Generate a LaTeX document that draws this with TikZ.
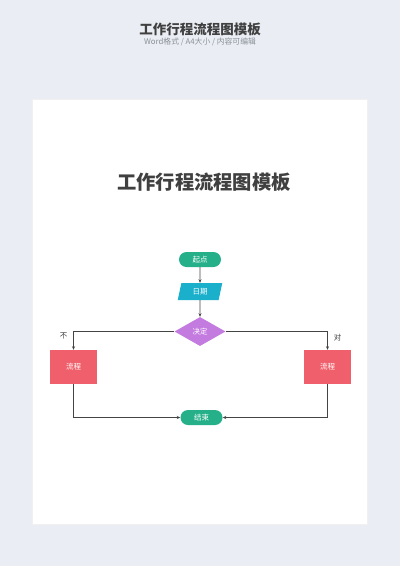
\documentclass[tikz,border=0pt]{standalone}
\usepackage{fontspec}
\setmainfont{Noto Sans CJK SC}
\usetikzlibrary{shapes.geometric,shapes.misc,arrows.meta}
\definecolor{bgc}{HTML}{EAEEF4}
\definecolor{teal1}{HTML}{26B08A}
\definecolor{cyan1}{HTML}{1AAFCB}
\definecolor{purp}{HTML}{C47BE0}
\definecolor{red1}{HTML}{F0606C}
\definecolor{ttl}{HTML}{404040}
\definecolor{sub}{HTML}{8A8F96}
\definecolor{lin}{HTML}{444444}
\tikzset{
  pill/.style={rounded rectangle,fill=teal1,text=white,minimum width=42pt,minimum height=15pt,inner sep=0pt,font=\fontsize{7.5}{8}\selectfont},
  para/.style={trapezium,trapezium left angle=78,trapezium right angle=102,fill=cyan1,text=white,minimum width=34pt,minimum height=17pt,inner sep=0pt,font=\fontsize{7.5}{8}\selectfont},
  dia/.style={diamond,aspect=1.9,fill=purp,text=white,minimum width=51pt,minimum height=29pt,inner sep=0pt,font=\fontsize{7.5}{8}\selectfont},
  proc/.style={rectangle,fill=red1,text=white,minimum width=47pt,minimum height=34pt,inner sep=0pt,font=\fontsize{7.5}{8}\selectfont},
  conn/.style={draw=lin,line width=0.8pt,-{Stealth[length=3.5pt,width=3pt]}},
  lbl/.style={text=ttl,font=\fontsize{7.5}{8}\selectfont,inner sep=0pt}
}
\begin{document}
\begin{tikzpicture}[x=1pt,y=-1pt]
\useasboundingbox (0,0) rectangle (400,566);
\fill[bgc] (0,0) rectangle (400,566);
\fill[black!6] (32,99) rectangle (368,525);
\fill[white] (33,100) rectangle (367,524);
\node[text=ttl,font=\fontsize{13.5}{15}\selectfont\bfseries] (title) at (200,29) {工作行程流程图模板};
\node[text=sub,font=\fontsize{7.8}{9}\selectfont] (subt) at (200,42) {Word格式 / A4大小 / 内容可编辑};
\node[text=ttl,font=\fontsize{19.3}{21}\selectfont\bfseries] (inner) at (204,182) {工作行程流程图模板};
\node[pill] (start) at (200,259.5) {起点};
\node[para] (date) at (200,291.5) {日期};
\node[dia] (dec) at (200,331.5) {决定};
\node[proc] (pl) at (73.5,367) {流程};
\node[proc] (pr) at (327.5,367) {流程};
\node[pill] (end) at (201.5,417.5) {结束};
\draw[conn] (start) -- (date);
\draw[conn] (date) -- (dec);
\draw[conn] (dec.west) -| (pl.north);
\draw[conn] (dec.east) -| (pr.north);
\draw[conn] (pl.south) |- (end.west);
\draw[conn] (pr.south) |- (end.east);
\node[lbl] (no) at (63.5,335.5) {不};
\node[lbl] (yes) at (337.5,337.5) {对};
\end{tikzpicture}
\end{document}
